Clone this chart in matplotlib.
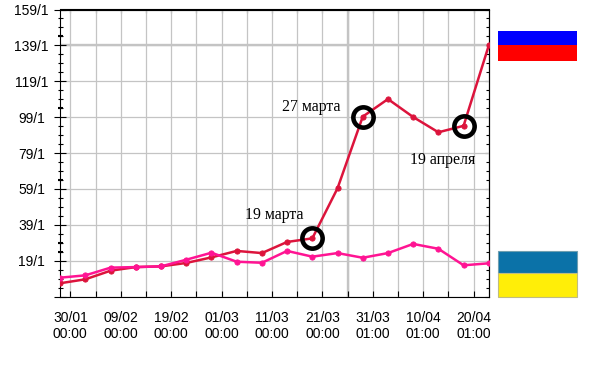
from datetime import datetime, timedelta

import matplotlib
matplotlib.use("Agg")
import matplotlib.dates as mdates
import matplotlib.pyplot as plt
from matplotlib.patches import Rectangle

W, H = 591, 387

# sampled every 5 days
start_date = datetime(2021, 1, 28)
n_points = 18
russia = [6.5, 8.7, 13.5, 15.5, 15.9, 17.8, 20.9, 24.5, 23.3, 29.5,
          31.5, 59.4, 99.3, 109.1, 99.1, 90.6, 94.2, 139]
ukraine = [9.6, 10.9, 15.2, 15.5, 15.9, 19.6, 23.5, 18.5, 17.9, 24.5,
           21.3, 23.3, 20.7, 23.3, 28.4, 25.7, 16.5, 17.6]
circled = [10, 12, 16]

y_major = [159, 139, 119, 99, 79, 59, 39, 19, -1]
y_labels = ["159/1", "139/1", "119/1", "99/1", "79/1", "59/1", "39/1", "19/1", ""]
y_minor = [154, 149, 144, 134, 129, 124, 114, 109, 104, 94, 89, 84, 74, 69, 64,
           54, 49, 44, 34, 29, 24, 14, 9, 4]
y_bold = [144, 104, 64, 29, 24]

x_first = datetime(2021, 1, 30)
x_labels = ["30/01\n00:00", "", "09/02\n00:00", "", "19/02\n00:00", "", "01/03\n00:00", "",
            "11/03\n00:00", "", "21/03\n00:00", "", "31/03\n01:00", "", "10/04\n01:00", "",
            "20/04\n01:00"]

dates = [start_date + timedelta(days=5 * i) for i in range(n_points)]
x_ticks = [x_first + timedelta(days=5 * i) for i in range(len(x_labels))]

fig = plt.figure(figsize=(W / 100, H / 100), dpi=100)
ax = fig.add_axes([59.5 / W, 1 - 296.7 / H, 429.8 / W, 287.2 / H])

ax.set_xlim(mdates.date2num(x_first) - 2.14, mdates.date2num(x_first) + 83.1)
ax.set_ylim(-1, 159)
ax.xaxis_date()
ax.set_axisbelow(True)

ax.set_xticks(x_ticks)
ax.set_xticklabels(x_labels, fontfamily="Liberation Sans", fontsize=10, linespacing=1.22)
ax.set_yticks(y_major)
ax.set_yticklabels(y_labels, fontfamily="Liberation Sans", fontsize=10, ha="center")
ax.set_yticks(y_minor, minor=True)
ax.grid(True, which="major", color="#c4c4c4", lw=0.9)

# the heavier grid lines
ax.axhline(139, color="#c4c4c4", lw=1.7, zorder=0.5)
ax.axvline(x_ticks[11], color="#c4c4c4", lw=1.7, zorder=0.5)

ax.tick_params(axis="x", which="major", direction="in", length=4, width=0.8, pad=10)
ax.tick_params(axis="y", which="major", direction="inout", length=8, width=0.8, pad=16)
ax.tick_params(axis="y", which="minor", direction="inout", length=3.6, width=0.8)

top = ax.secondary_xaxis("top")
top.set_xticks(x_ticks)
top.set_xticklabels([])
top.tick_params(direction="in", length=3, width=0.8)
top.spines["top"].set_linewidth(0.8)

right = ax.secondary_yaxis("right")
right.set_yticks(y_major)
right.set_yticks(y_minor, minor=True)
right.set_yticklabels([])
right.tick_params(which="major", direction="in", length=3, width=0.8)
right.tick_params(which="minor", direction="in", length=2, width=0.8)
right.spines["right"].set_linewidth(0.8)

for spine in ax.spines.values():
    spine.set_linewidth(0.8)

# short heavy ticks on the left axis
tick_tr = ax.get_yaxis_transform()
for v in y_bold:
    ax.plot([-0.003, 0.008], [v, v], color="black", lw=1.5, transform=tick_tr,
            clip_on=False, solid_capstyle="butt", zorder=5)

ax.plot(dates, russia, color="#dc143c", lw=1.8, marker="o", ms=3.8, mew=0.6, zorder=3)
ax.plot(dates, ukraine, color="#ff1493", lw=1.8, marker="o", ms=3.8, mew=0.6, zorder=4)

ax.plot([dates[i] for i in circled], [russia[i] for i in circled], ls="none",
        marker="o", ms=14.6, mfc="none", mec="black", mew=3.3, zorder=6)

serif = dict(fontfamily="Liberation Serif", fontsize=11.4, color="black",
             transform=fig.transFigure, ha="left", va="center")
fig.text(245 / W, 1 - 215 / H, "19 марта", **serif)
fig.text(282 / W, 1 - 107 / H, "27 марта", **serif)
fig.text(410 / W, 1 - 160 / H, "19 апреля", **serif)

# flags
flags = [
    (498, 31, 79, 14, "#0000ff", "none"),
    (498, 45, 79, 16, "#ff0000", "none"),
    (497.5, 250.5, 79.5, 22.5, "#0b72a8", "#6f9fb0"),
    (497.5, 273, 79.5, 23.5, "#ffee08", "#c0bc80"),
]
for x, y, w, h, color, edge in flags:
    fig.add_artist(Rectangle((x / W, 1 - (y + h) / H), w / W, h / H, facecolor=color,
                             edgecolor=edge, lw=0.8, transform=fig.transFigure))

fig.savefig("out.png", dpi=100)
plt.close(fig)
